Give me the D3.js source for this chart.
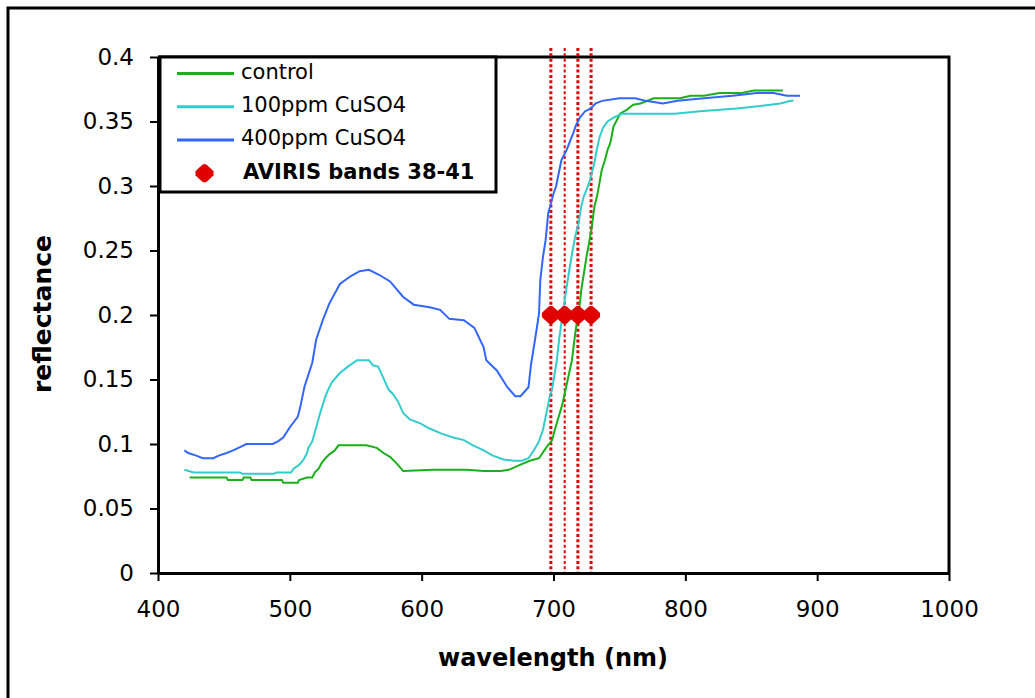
<!DOCTYPE html>
<html>
<head>
<meta charset="utf-8">
<script src="https://cdn.jsdelivr.net/npm/d3@7"></script>
<style>
  body { margin: 0; background: #fff; }
  svg { display: block; font-family: "DejaVu Sans", sans-serif; }
</style>
</head>
<body>
<div id="chart"></div>
<script>
// reflectance spectra, [wavelength nm, reflectance]
const control = [[424,0.074],[452,0.074],[453,0.072],[464,0.072],[465,0.074],[470,0.074],[471,0.072],[494,0.072],[495,0.070],[506,0.070],[507,0.072],[513,0.074],[517,0.074],[519,0.078],[522,0.081],[524,0.085],[527,0.089],[530,0.092],[534,0.095],[537,0.099],[558,0.099],[566,0.097],[571,0.093],[576,0.090],[581,0.085],[586,0.079],[609,0.080],[634,0.080],[647,0.079],[660,0.079],[666,0.080],[675,0.084],[682,0.087],[689,0.089],[695,0.098],[699,0.103],[701,0.111],[704.5,0.123],[707,0.132],[711,0.151],[714,0.165],[716.5,0.186],[720,0.209],[721,0.219],[723,0.232],[725,0.245],[727,0.256],[729,0.268],[731,0.284],[733,0.292],[735,0.303],[736.5,0.312],[739,0.320],[741,0.328],[743,0.333],[744,0.338],[745.5,0.346],[748,0.351],[750.5,0.356],[755.5,0.359],[760.5,0.363],[766,0.364],[776,0.368],[796,0.368],[804,0.370],[814,0.370],[826,0.372],[842,0.372],[852,0.374],[874,0.374]];

const cu100 = [[420,0.080],[427,0.078],[462,0.078],[464,0.077],[488,0.077],[490,0.078],[501,0.078],[503,0.081],[506,0.083],[509,0.086],[511,0.089],[513,0.093],[514,0.097],[517,0.102],[520,0.113],[523,0.124],[527,0.137],[529,0.142],[532,0.148],[538,0.155],[544,0.160],[551,0.165],[560,0.165],[563,0.161],[567,0.160],[571,0.151],[575,0.142],[578,0.139],[582,0.133],[586,0.124],[591,0.119],[599,0.116],[606,0.112],[615,0.108],[624,0.105],[632,0.103],[639,0.099],[647,0.095],[654,0.091],[662,0.088],[670,0.087],[676,0.087],[681,0.089],[685,0.095],[689,0.102],[692,0.111],[695,0.126],[697,0.136],[699,0.143],[700.5,0.152],[702.5,0.165],[704.5,0.183],[706,0.194],[710,0.222],[712.5,0.238],[714.5,0.250],[716.5,0.261],[719,0.271],[721,0.284],[723,0.292],[725,0.297],[727.5,0.304],[731,0.318],[733,0.329],[735,0.338],[737.5,0.345],[741,0.350],[745.5,0.353],[752,0.356],[792,0.356],[811,0.358],[839,0.360],[857,0.362],[872,0.364],[880,0.366],[882,0.366]];

const cu400 = [[420,0.095],[423,0.093],[429,0.091],[434,0.089],[442,0.089],[446,0.091],[452,0.093],[457,0.095],[463,0.098],[467,0.100],[487,0.100],[491,0.102],[495,0.105],[500,0.113],[506,0.121],[508,0.129],[511,0.144],[517,0.163],[520,0.181],[525,0.196],[530,0.209],[538,0.224],[546,0.230],[553,0.234],[560,0.235],[568,0.231],[576,0.226],[586,0.214],[594,0.208],[606,0.206],[614,0.204],[621,0.197],[632,0.196],[640,0.190],[647,0.175],[649,0.165],[657,0.157],[665,0.144],[671,0.137],[675,0.137],[681,0.144],[683,0.162],[686,0.181],[689,0.201],[690,0.227],[692,0.245],[694,0.258],[696,0.279],[700,0.294],[702,0.300],[706,0.320],[710,0.328],[713,0.336],[715,0.341],[717,0.347],[720,0.353],[724,0.358],[728,0.360],[732,0.364],[737,0.366],[750,0.368],[762,0.368],[770,0.366],[783,0.364],[794,0.366],[814,0.368],[836,0.370],[854,0.372],[867,0.372],[877,0.370],[887,0.370]];

// AVIRIS bands 38-41 centre wavelengths, marked at reflectance 0.2
const bandWl = [698, 708.5, 718.5, 728.5];
const bandR = 0.2;
const bandWidths = [3, 2, 3, 3];

const seriesNames = ["control", "100ppm CuSO4", "400ppm CuSO4"];
const seriesColors = ["#19b019", "#33cccc", "#3366ff"];
const seriesData = [control, cu100, cu400];

const xTicks = [400, 500, 600, 700, 800, 900, 1000];
const yTicks = [0, 0.05, 0.1, 0.15, 0.2, 0.25, 0.3, 0.35, 0.4];
const yTickLabels = ["0", "0.05", "0.1", "0.15", "0.2", "0.25", "0.3", "0.35", "0.4"];

const W = 1035, H = 698;
const margin = { left: 158, top: 57, right: 86, bottom: 125 };
const pw = W - margin.left - margin.right;
const ph = H - margin.top - margin.bottom;

const svg = d3.select("#chart").append("svg")
  .attr("width", W)
  .attr("height", H);

// outer frame (runs off the right / bottom edge)
svg.append("rect")
  .attr("x", 8).attr("y", 8)
  .attr("width", 1100).attr("height", 800)
  .attr("fill", "none").attr("stroke", "#000").attr("stroke-width", 3);

const g = svg.append("g").attr("transform", `translate(${margin.left},${margin.top})`);

const x = d3.scaleLinear().domain([400, 1000]).range([0, pw]);
const y = d3.scaleLinear().domain([0, 0.4]).range([ph, 0]);

// plot frame top/right
g.append("path")
  .attr("d", `M0,0H${pw}V${ph}`)
  .attr("fill", "none").attr("stroke", "#000").attr("stroke-width", 3);

// red dotted band lines
bandWl.forEach((w, i) => {
  g.append("line")
    .attr("x1", x(w)).attr("x2", x(w))
    .attr("y1", y(0.407)).attr("y2", y(0))
    .attr("stroke", "#e00000")
    .attr("stroke-width", bandWidths[i])
    .attr("stroke-dasharray", "3,2.4");
});

// spectra
const line = d3.line().x(d => x(d[0])).y(d => y(d[1]));
seriesData.forEach((s, i) => {
  g.append("path")
    .datum(s)
    .attr("d", line)
    .attr("fill", "none")
    .attr("stroke", seriesColors[i])
    .attr("stroke-width", 2);
});

// band markers
const markerPath = "M-1.5,-9L1.5,-9L6,-5L9,-2L9,2L6,5L1.5,9L-1.5,9L-6,5L-9,2L-9,-2L-6,-5Z";
g.selectAll(".band")
  .data(bandWl)
  .join("path")
  .attr("class", "band")
  .attr("transform", d => `translate(${x(d)},${y(bandR)})`)
  .attr("d", markerPath)
  .attr("fill", "#e00000");

// axes
const xAxis = g.append("g")
  .attr("transform", `translate(0,${ph})`)
  .call(d3.axisBottom(x).tickValues(xTicks).tickFormat(d3.format("d"))
    .tickSize(8).tickSizeOuter(0).tickPadding(20));
const yAxis = g.append("g")
  .call(d3.axisLeft(y).tickValues(yTicks).tickFormat((d, i) => yTickLabels[i])
    .tickSize(8).tickSizeOuter(0).tickPadding(16));

[xAxis, yAxis].forEach(a => {
  a.select(".domain").attr("stroke-width", 3);
  a.selectAll(".tick line").attr("stroke-width", 2);
  a.selectAll(".tick text")
    .attr("font-family", "DejaVu Sans, sans-serif")
    .attr("font-size", 23)
    .attr("fill", "#000");
});

// axis titles
svg.append("text")
  .attr("x", 553).attr("y", 666)
  .attr("text-anchor", "middle")
  .attr("font-size", 24).attr("font-weight", "bold")
  .text("wavelength (nm)");

svg.append("text")
  .attr("transform", "translate(51,314) rotate(-90)")
  .attr("text-anchor", "middle")
  .attr("font-size", 25).attr("font-weight", "bold")
  .text("reflectance");

// legend
const lg = svg.append("g");
lg.append("rect")
  .attr("x", 160).attr("y", 57)
  .attr("width", 336).attr("height", 135)
  .attr("fill", "#fff").attr("stroke", "#000").attr("stroke-width", 3);

const rowY = [73.5, 106.7, 140, 173.3];
seriesNames.forEach((n, i) => {
  lg.append("line")
    .attr("x1", 177).attr("x2", 234)
    .attr("y1", rowY[i]).attr("y2", rowY[i])
    .attr("stroke", seriesColors[i]).attr("stroke-width", 3);
  lg.append("text")
    .attr("x", 241).attr("y", rowY[i] - 2)
    .attr("dy", "0.35em")
    .attr("font-size", 21)
    .text(n);
});
lg.append("path")
  .attr("transform", `translate(204.5,${rowY[3]})`)
  .attr("d", markerPath)
  .attr("fill", "#e00000");
lg.append("text")
  .attr("x", 243).attr("y", rowY[3] - 2)
  .attr("dy", "0.35em")
  .attr("font-size", 21).attr("font-weight", "bold")
  .text("AVIRIS bands 38-41");
</script>
</body>
</html>
